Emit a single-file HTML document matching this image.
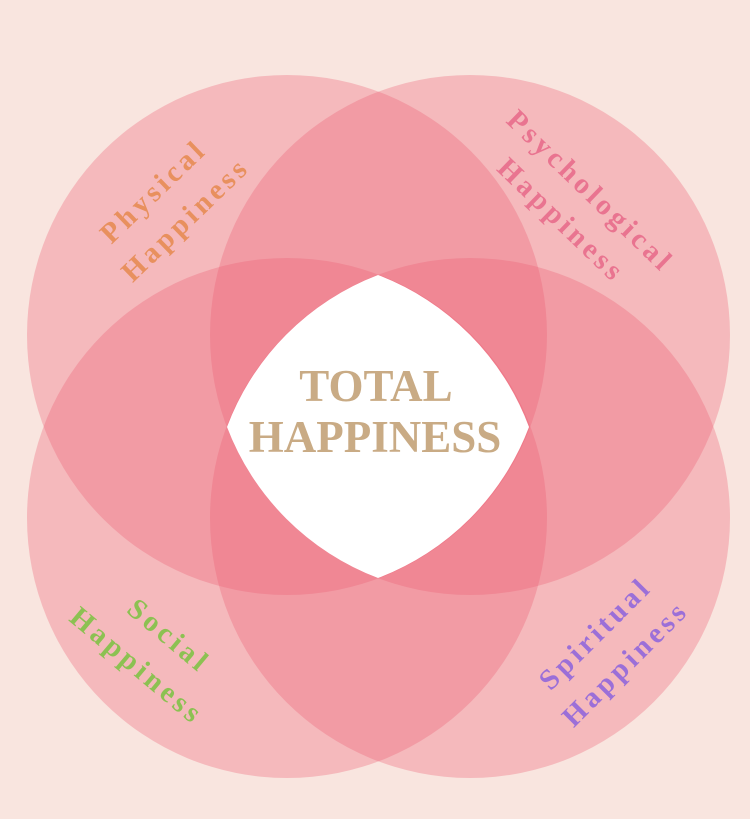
<!DOCTYPE html>
<html><head><meta charset="utf-8"><style>
html,body{margin:0;padding:0;background:#f9e5df;}
svg{display:block}
text{font-family:"Liberation Serif",serif;font-weight:bold;}
</style></head><body>
<svg width="750" height="819" viewBox="0 0 750 819" xmlns="http://www.w3.org/2000/svg">
<rect width="750" height="819" fill="#f9e5df"/>
<g fill="rgb(236,92,115)" fill-opacity="0.32">
<circle cx="287" cy="335" r="260"/>
<circle cx="470" cy="335" r="260"/>
<circle cx="287" cy="518" r="260"/>
<circle cx="470" cy="518" r="260"/>
</g>
<path d="M378,275 A260,260 0 0 1 529,427 A260,260 0 0 1 378,578 A260,260 0 0 1 227,427 A260,260 0 0 1 378,275 Z" fill="#ffffff"/>
<text x="376" y="401" text-anchor="middle" font-size="45" fill="#c9ab85">TOTAL</text>
<text x="375" y="452" text-anchor="middle" font-size="45" fill="#c9ab85">HAPPINESS</text>
<g font-size="29" letter-spacing="4">
<text transform="translate(160,198) rotate(-44)" text-anchor="middle" fill="#e8905e">Physical</text>
<text transform="translate(192,226) rotate(-44)" text-anchor="middle" fill="#e8905e">Happiness</text>
<text transform="translate(584,198) rotate(44)" text-anchor="middle" fill="#e97490">Psychological</text>
<text transform="translate(555,227) rotate(44)" text-anchor="middle" fill="#e97490">Happiness</text>
<text transform="translate(163,643) rotate(40)" text-anchor="middle" fill="#8cc152">Social</text>
<text transform="translate(131,673) rotate(40)" text-anchor="middle" fill="#8cc152">Happiness</text>
<text transform="translate(602,640) rotate(-45)" text-anchor="middle" fill="#9b6fd8">Spiritual</text>
<text transform="translate(632,670) rotate(-45)" text-anchor="middle" fill="#9b6fd8">Happiness</text>
</g>
</svg>
</body></html>
